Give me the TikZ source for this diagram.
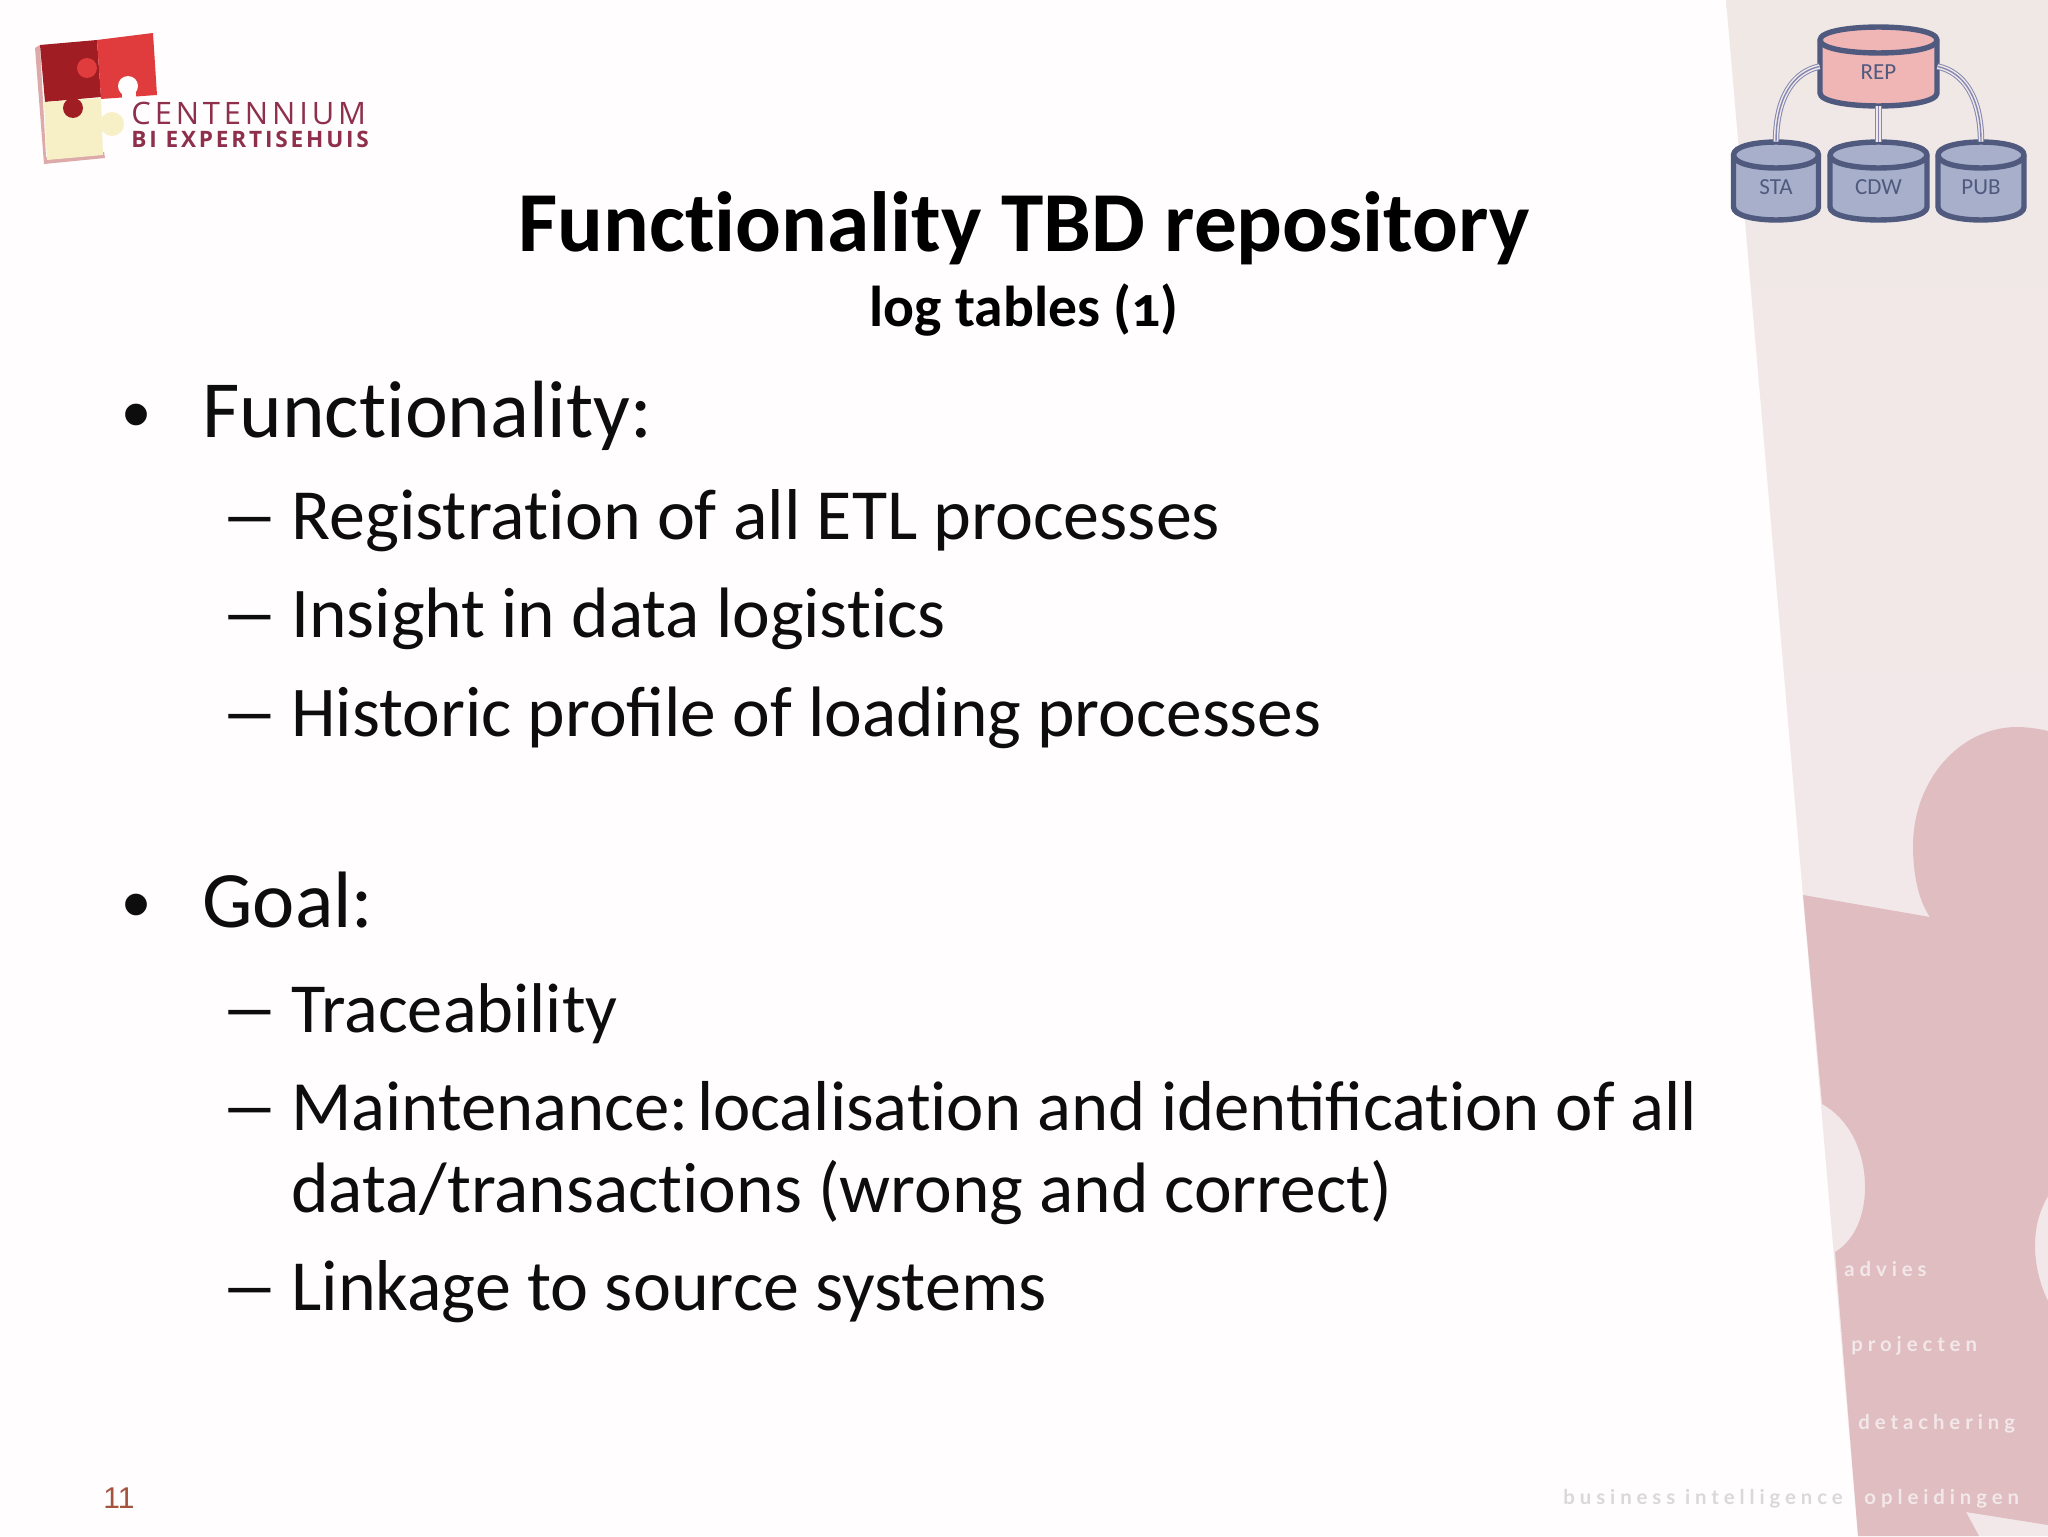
\documentclass[tikz,border=0pt]{standalone}
\usepackage{fontspec}
\setmainfont{Carlito}[Numbers=OldStyle]
\newfontfamily\arialfont{Liberation Sans}
\newfontfamily\logofont{Open Sans}[LetterSpace=12.5]
\newfontfamily\wideB{Lato}[LetterSpace=24]
\definecolor{pagebg}{HTML}{FFFDFD}
\definecolor{pinklight}{HTML}{F3E8E9}
\definecolor{pinktop}{HTML}{EFE8E5}
\definecolor{pinkdark}{HTML}{DFBDC1}
\definecolor{cyledge}{HTML}{4F5A7E}
\definecolor{cylblue}{HTML}{A8AFCB}
\definecolor{cylred}{HTML}{F0B5B5}
\definecolor{linkc}{HTML}{8288B0}
\definecolor{logot}{HTML}{8E2F4C}
\definecolor{logodark}{HTML}{A01D24}
\definecolor{logored}{HTML}{E03C3E}
\definecolor{logoyellow}{HTML}{F7EFC6}
\definecolor{logoshadow}{HTML}{DDA9A9}
\definecolor{pagenum}{HTML}{A5533C}
\newcommand{\myBrk}{\kern0pt }
\newcommand{\myDash}{\scalebox{1.65}[1]{–}}
\newcommand{\mySize}[1]{\fontsize{#1}{36}\selectfont}
\tikzset{
  titlet/.style={anchor=base,inner sep=0,font=\fontsize{42.7}{42}\selectfont\bfseries,text=black},
  subt/.style={anchor=base,inner sep=0,font=\fontsize{28.8}{28}\selectfont\bfseries,text=black},
  lone/.style={anchor=base west,inner sep=0,font=\fontsize{40}{40}\selectfont,text=black!95},
  ltwo/.style={anchor=base west,inner sep=0,font=\fontsize{35.7}{36}\selectfont,text=black!95},
  bull/.style={anchor=base,inner sep=0,font=\fontsize{40}{40}\selectfont\arialfont,text=black!95},
  cyllabel/.style={inner sep=0,font=\fontsize{11.5}{11.5}\selectfont,text=cyledge},
  sidelabel/.style={anchor=base west,inner sep=0,font=\fontsize{10.2}{9}\selectfont\wideB\bfseries,text=#1},
  linkout/.style={line width=3.2pt,draw=linkc},
  linkmid/.style={line width=2.2pt,draw=pinklight},
  linkin/.style={line width=0.7pt,draw=linkc},
}
% name, cx, half width, y top ellipse, y bottom ellipse, fill, label
\newcommand{\dbcyl}[7]{%
  \path[fill=#6,draw=cyledge,line width=2.7pt,line join=round]
    (#2-#3,#4) -- (#2-#3,#5) .. controls (#2-#3,#5+17.3) and (#2+#3,#5+17.3) .. (#2+#3,#5)
    -- (#2+#3,#4) .. controls (#2+#3,#4-17.3) and (#2-#3,#4-17.3) .. (#2-#3,#4) -- cycle;
  \draw[cyledge,line width=2.7pt] (#2-#3,#4) .. controls (#2-#3,#4+17.3) and (#2+#3,#4+17.3) .. (#2+#3,#4);
  \node[inner sep=0,minimum width=2*#3*0.5pt,minimum height=(#5-#4+26)*0.5pt,
        label={[cyllabel,name=#1txt,yshift=-3pt]center:#7}] (#1) at (#2,{(#4+#5)/2}) {};
}
\newcommand{\tripleline}[1]{%
  \draw[linkout] #1; \draw[linkmid] #1; \draw[linkin] #1;
}
\begin{document}
\begin{tikzpicture}[x=0.5pt,y=-0.5pt]
\useasboundingbox (0,0) rectangle (2048,1536);
\fill[pagebg] (0,0) rectangle (2048,1536);
% side band
\shade[top color=pinktop,bottom color=pinklight,middle color=pinklight] (1726,0) -- (2048,0) -- (2048,1536) -- (1858,1536) -- cycle;
\fill[pinkdark] (1803,895) -- (1930,917)
  .. controls (1918,900) and (1913,873) .. (1913,846)
  .. controls (1913,780) and (1960,727) .. (2017,727)
  .. controls (2028,727) and (2040,729) .. (2048,731)
  -- (2048,1196)
  .. controls (2040,1210) and (2035,1225) .. (2035,1246)
  .. controls (2035,1265) and (2040,1285) .. (2048,1301)
  -- (2048,1525) -- (1966,1512) -- (1979,1536) -- (1858,1536) -- (1835,1252)
  .. controls (1855,1240) and (1865,1215) .. (1865,1187)
  .. controls (1865,1150) and (1848,1118) .. (1822,1104) -- cycle;
% logo
\fill[logoshadow] (35,48) -- (40,45) -- (46,157) -- (104,152) -- (105,158) -- (44,164) -- cycle;
\fill[logodark] (40,45) -- (97,40) -- (101,97) -- (45,102) -- cycle;
\fill[logored] (97,40) -- (153,33) -- (157,95) -- (101,99) -- cycle;
\fill[logored] (87,68) circle[radius=5pt];
\fill[pagebg] (128,86) circle[radius=5pt];
\fill[pagebg] (122,90) rectangle (136,100);
\fill[logoyellow] (44,102) -- (101,98) -- (103,155) -- (47,160) -- cycle;
\fill[logoyellow] (112,124) circle[radius=6pt];
\fill[logodark] (73,108) circle[radius=5pt];
\node[anchor=base west,inner sep=0,text=logot,font=\fontsize{15.45}{15}\selectfont\logofont] (logoa) at (131,125) {CENTENNIUM};
\node[anchor=base west,inner sep=0,text=logot,font=\fontsize{11.3}{11}\selectfont\logofont\bfseries] (logob) at (131,148) {BI EXPERTISEHUIS};
% titles
\node[titlet] (title) at (1024,251) {Funct\myBrk ionality TBD repository};
\node[subt] (subtitle) at (1024,326) {log tables (1)};
% bullets
\node[bull] (b1) at (137,441) {•};
\node[lone] (t1) at (202,437) {\mySize{40.6}Funct\myBrk ionality:};
\node[ltwo] (d1) at (220,539) {\myDash};
\node[ltwo] (s1) at (291,539) {\mySize{36}Registrat\myBrk ion of all ETL processes};
\node[ltwo] (d2) at (220,637) {\myDash};
\node[ltwo] (s2) at (291,637) {Insight in data logist\myBrk ics};
\node[ltwo] (d3) at (220,736) {\myDash};
\node[ltwo] (s3) at (291,736) {Historic profile of loading processes};
\node[bull] (b2) at (137,931) {•};
\node[lone] (t2) at (202,927) {Goal:};
\node[ltwo] (d4) at (220,1032) {\myDash};
\node[ltwo] (s4) at (291,1032) {\mySize{35.2}Traceability};
\node[ltwo] (d5) at (220,1130) {\myDash};
\node[ltwo] (s5) at (291,1130) {\mySize{35.35}Maintenance:\kern-3.75pt\ localisat\myBrk ion and identificat\myBrk ion of all};
\node[ltwo] (s5b) at (291,1212) {data/transact\myBrk ions (wrong and correct)};
\node[ltwo] (d6) at (220,1310) {\myDash};
\node[ltwo] (s6) at (291,1310) {\mySize{36}Linkage to source systems};
% page number
\node[anchor=base west,inner sep=0,text=pagenum,font=\fontsize{15}{15}\selectfont\arialfont] (pg) at (103,1508) {11};
% side labels
\node[sidelabel=pinklight] (l1) at (1844,1276) {advies};
\node[sidelabel=pinklight] (l2) at (1851,1351) {projecten};
\node[sidelabel=pinklight] (l3) at (1858,1429) {detachering};
\node[sidelabel=pinklight] (l4) at (1864,1504) {opleidingen};
\node[sidelabel=black!15] (l5) at (1563,1504) {business intelligence};
% cylinders
\dbcyl{rep}{1878.5}{58.5}{40}{93}{cylred}{REP}
\dbcyl{sta}{1776}{42.5}{155}{207}{cylblue}{STA}
\dbcyl{cdw}{1878.5}{48.5}{155}{207}{cylblue}{CDW}
\dbcyl{pub}{1981}{43}{155}{207}{cylblue}{PUB}
% connectors
\tripleline{(rep.west) .. controls (1793,72) and (1776,98) .. (sta.north)}
\tripleline{(rep.south) -- (cdw.north)}
\tripleline{(rep.east) .. controls (1964,72) and (1981,98) .. (pub.north)}
\end{tikzpicture}
\end{document}
